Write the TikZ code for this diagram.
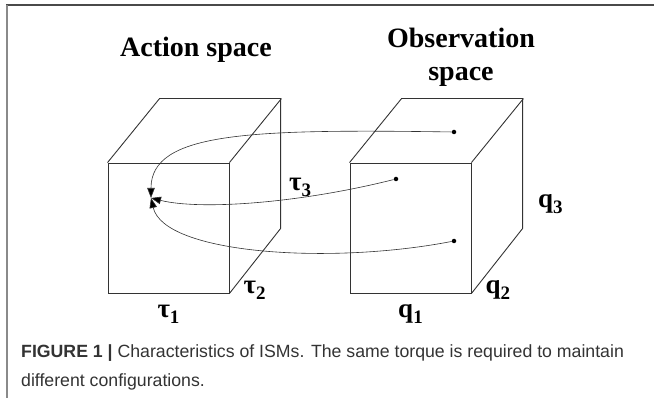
\documentclass[tikz,border=0pt]{standalone}
\usepackage{fontspec}
\setmainfont{Liberation Serif}
\setsansfont{Liberation Sans}
\usetikzlibrary{arrows.meta, positioning}
\definecolor{trazo}{HTML}{333333}
\definecolor{texto}{HTML}{333333}
\definecolor{marcoclaro}{HTML}{8A8A8A}
\definecolor{marcooscuro}{HTML}{4A4A4A}
\newcommand{\ind}[1]{\raisebox{-0.22em}{\fontsize{19}{19}\selectfont #1}}
\tikzset{
  cara/.style={draw=trazo, line width=0.9pt, minimum width=121pt, minimum height=130pt, inner sep=0pt},
  arista/.style={draw=trazo, line width=0.9pt},
  titulo/.style={font=\fontsize{28}{34}\selectfont\bfseries, inner sep=0pt},
  etiq/.style={font=\fontsize{27}{30}\selectfont\bfseries, inner sep=0pt},
  punto/.style={circle, fill=black, inner sep=0pt, minimum size=4.5pt},
  flecha/.style={-{Triangle[length=10pt,width=7.5pt,fill=black]}, line width=0.6pt, draw=trazo},
  leyenda/.style={anchor=base west, font=\sffamily\fontsize{17.7}{21}\selectfont, text=texto, inner sep=0pt},
}

\begin{document}
\begin{tikzpicture}[x=1pt, y=-1pt]
  \useasboundingbox (0,0) rectangle (654,398);
  % marco
  \draw[marcooscuro, line width=1.2pt] (6.3,5) -- (654,5);
  \draw[marcoclaro, line width=1.6pt] (7,5) -- (7,398);

  % cubos
  \node[cara] (fA) at (168.5,228) {};
  \node[cara] (fB) at (410.5,228) {};
  \draw[arista] (fA.north west) -- ++(52,-64) -- ++(121,0) -- ++(0,130) -- (fA.south east);
  \draw[arista] (fA.north east) -- ++(52,-64);
  \draw[arista] (fB.north west) -- ++(52,-64) -- ++(121,0) -- ++(0,130) -- (fB.south east);
  \draw[arista] (fB.north east) -- ++(52,-64);

  % titulos
  \node[titulo, anchor=base] (tAcc) at (196,57) {Action space};
  \node[titulo, anchor=base] (tObs) at (461,48) {Observation};
  \node[titulo, anchor=base] (tEsp) at ([yshift=-33pt]tObs.base) {space};

  % puntos y flechas
  \node[punto] (dA) at (454,132) {};
  \node[punto] (dB) at (396,179) {};
  \node[punto] (dC) at (454,241) {};
  \coordinate (meta) at (151,198);
  \draw[flecha] (dA) .. controls +(-204,-3) and +(0,-66) .. (meta);
  \draw[flecha] (dB) .. controls +(-100,25) and +(48,12) .. (meta);
  \draw[flecha] (dC) .. controls +(-124,24) and +(13,56) .. (meta);

  % etiquetas
  \node[etiq, anchor=base] (t1) at ([yshift=-24pt]fA.south) {τ\ind{1}};
  \node[etiq, anchor=base west] (t2) at ([xshift=14pt]fA.south east) {τ\ind{2}};
  \node[etiq, anchor=base west] (t3) at (289,191) {τ\ind{3}};
  \node[etiq, anchor=base] (q1) at ([yshift=-24pt]fB.south) {q\ind{1}};
  \node[etiq, anchor=base west] (q2) at ([xshift=14pt]fB.south east) {q\ind{2}};
  \node[etiq, anchor=base west] (q3) at (538,208) {q\ind{3}};

  % pie
  \node[leyenda] (pie1) at (21,358) {\textbf{FIGURE 1 |} Characteristics of ISMs. The same torque is required to maintain};
  \node[leyenda] (pie2) at (21,387) {different configurations.};
\end{tikzpicture}
\end{document}
